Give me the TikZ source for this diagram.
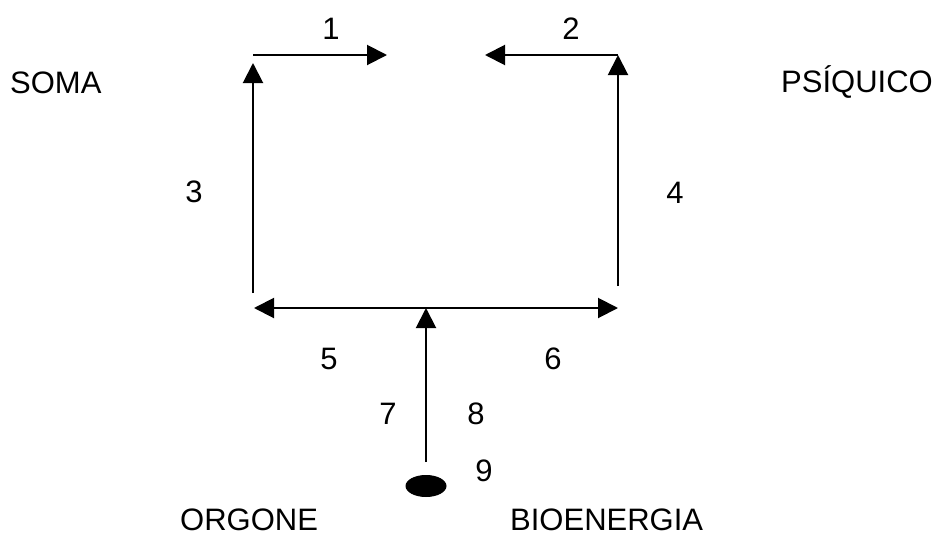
\documentclass[tikz,border=0pt]{standalone}
\usepackage{fontspec}
\setmainfont{Liberation Sans}
\usetikzlibrary{arrows.meta,shapes.geometric}
\begin{document}
\begin{tikzpicture}[x=1pt,y=-1pt,
  lbl/.style={anchor=base,inner sep=0pt,font=\fontsize{31}{36}\selectfont},
  conn/.style={line width=2pt,-{Triangle[length=20pt,width=20pt]}},
  dconn/.style={line width=2pt,{Triangle[length=20pt,width=20pt]}-{Triangle[length=20pt,width=20pt]}}]
\useasboundingbox (0,0) rectangle (938,536);
% corner coordinates
\coordinate (lb) at (253,293);
\coordinate (lt) at (253,63);
\coordinate (a1s) at (253,55);
\coordinate (a1e) at (387,55);
\coordinate (rb) at (618,286);
\coordinate (rt) at (618,55);
\coordinate (a2e) at (485,55);
\coordinate (bl) at (254,308);
\coordinate (br) at (618,308);
\coordinate (mt) at (426,308);
\coordinate (mb) at (426,462);
\node[ellipse,fill=black,minimum width=41pt,minimum height=22pt,inner sep=0pt] (dot) at (426,486) {};
% connectors
\draw[conn] (lb) -- (lt);
\draw[conn] (a1s) -- (a1e);
\draw[conn] (rb) -- (rt);
\draw[conn] (rt) -- (a2e);
\draw[dconn] (bl) -- (br);
\draw[conn] (mb) -- (mt);
% labels
\node[lbl] (n1) at (331,39) {1};
\node[lbl] (n2) at (571,39) {2};
\node[lbl] (n3) at (194,202) {3};
\node[lbl] (n4) at (675,203) {4};
\node[lbl] (n5) at (329,369) {5};
\node[lbl] (n6) at (553,369) {6};
\node[lbl] (n7) at (388,424) {7};
\node[lbl] (n8) at (476,424) {8};
\node[lbl] (n9) at (484,481) {9};
\node[lbl,anchor=base west] (soma) at (10,93) {SOMA};
\node[lbl,anchor=base west] (psi) at (781,92) {PSÍQUICO};
\node[lbl,anchor=base west] (org) at (180,530) {ORGONE};
\node[lbl,anchor=base west] (bio) at (510,530) {BIOENERGIA};
\end{tikzpicture}
\end{document}
